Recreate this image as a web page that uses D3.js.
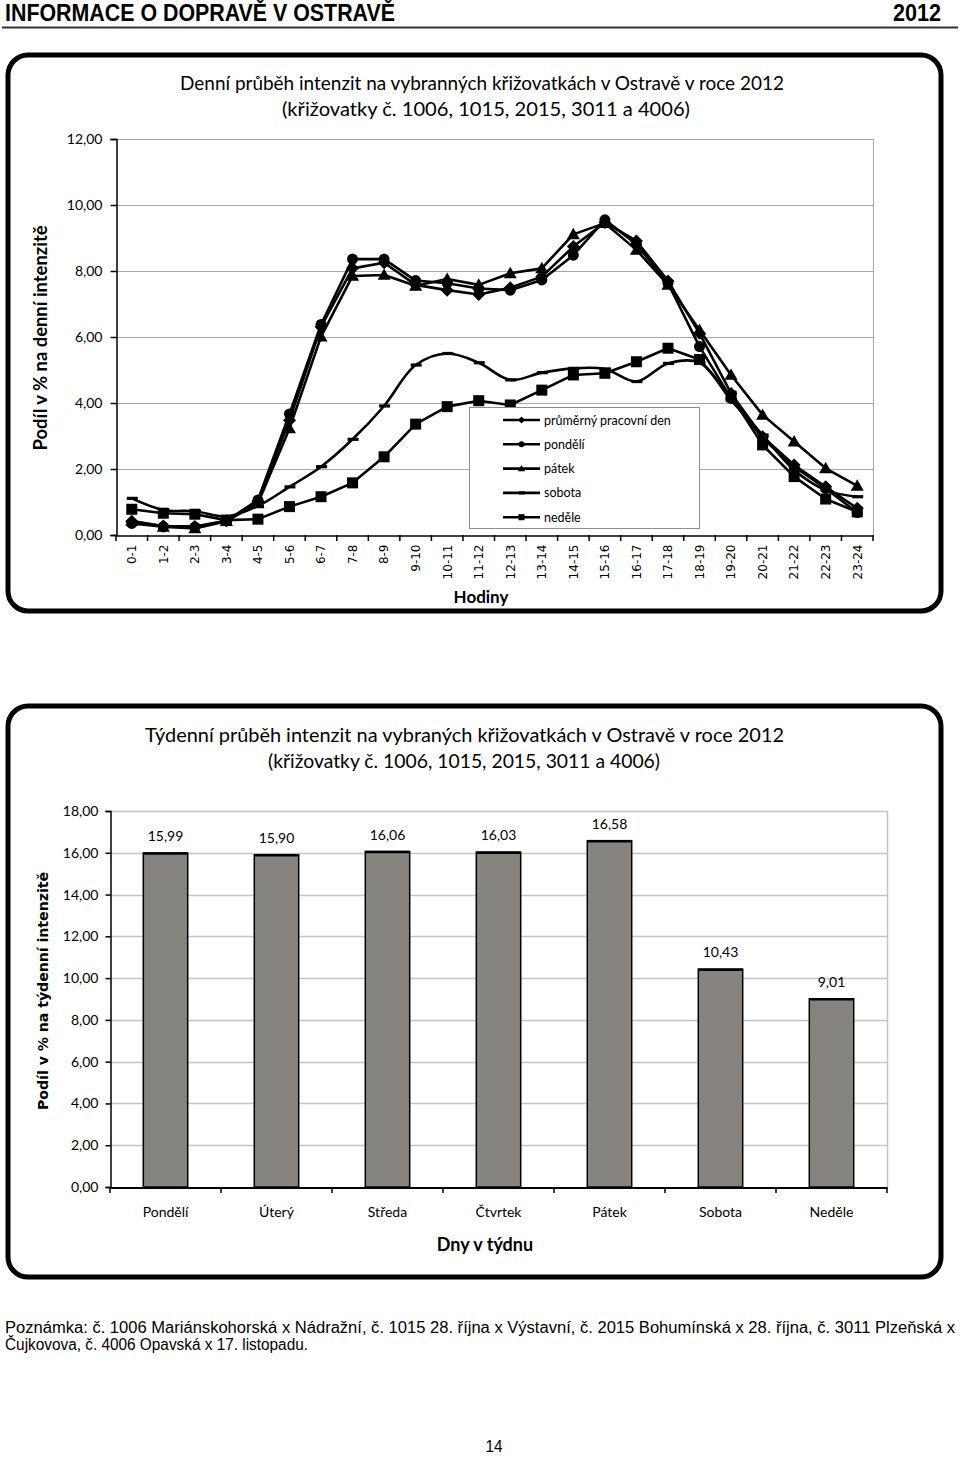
<!DOCTYPE html>
<html><head><meta charset="utf-8">
<script src="https://cdn.jsdelivr.net/npm/d3@7"></script>
<style>
html,body{margin:0;padding:0;background:#fff;}
svg{display:block;}
</style></head>
<body>
<script>
// ---------- DATA ----------
const hours = ["0-1","1-2","2-3","3-4","4-5","5-6","6-7","7-8","8-9","9-10","10-11","11-12","12-13","13-14","14-15","15-16","16-17","17-18","18-19","19-20","20-21","21-22","22-23","23-24"];
const prumernyDen = [0.42,0.27,0.26,0.43,1.02,3.48,6.31,8.08,8.25,7.58,7.42,7.29,7.49,7.83,8.74,9.47,8.91,7.70,6.11,4.29,2.98,2.12,1.46,0.81];
const pondeli     = [0.35,0.25,0.24,0.43,1.06,3.67,6.38,8.36,8.36,7.71,7.63,7.47,7.42,7.73,8.48,9.55,8.81,7.63,5.71,4.14,2.93,2.07,1.41,0.68];
const patek       = [0.42,0.25,0.20,0.42,0.96,3.23,6.01,7.85,7.88,7.55,7.76,7.58,7.93,8.08,9.11,9.45,8.64,7.58,6.21,4.85,3.64,2.83,2.02,1.49];
const sobota      = [1.11,0.76,0.72,0.56,0.88,1.46,2.07,2.90,3.91,5.15,5.50,5.22,4.70,4.92,5.05,5.03,4.65,5.20,5.22,4.09,3.03,1.97,1.36,1.16];
const nedele      = [0.78,0.66,0.63,0.45,0.48,0.86,1.16,1.58,2.37,3.36,3.89,4.07,3.94,4.39,4.85,4.90,5.25,5.66,5.32,4.21,2.73,1.77,1.09,0.70];
const seriesNames = ["průměrný pracovní den","pondělí","pátek","sobota","neděle"];
const dailyTicks = [0,2,4,6,8,10,12];

const days = ["Pondělí","Úterý","Středa","Čtvrtek","Pátek","Sobota","Neděle"];
const weekShare = [15.99,15.90,16.06,16.03,16.58,10.43,9.01];
const weeklyTicks = [0,2,4,6,8,10,12,14,16,18];

// ---------- SETUP ----------
const W = 960, H = 1457;
const svg = d3.select("body").append("svg").attr("width", W).attr("height", H);
const fmt = v => d3.format(".2f")(v).replace(".", ",");
const CAL = "Lato, 'Open Sans', sans-serif";
const NARROW = "'Liberation Sans Narrow','Arial Narrow','Liberation Sans',Arial,sans-serif";

// Header
svg.append("text").attr("x", 5).attr("y", 21).attr("font-family", NARROW).attr("font-weight", "bold")
  .attr("font-size", 23).attr("textLength", 390).attr("lengthAdjust", "spacingAndGlyphs")
  .text("INFORMACE O DOPRAVĚ V OSTRAVĚ");
svg.append("text").attr("x", 893).attr("y", 21).attr("font-family", NARROW)
  .attr("font-weight", "bold").attr("font-size", 23).attr("textLength", 48).attr("lengthAdjust", "spacingAndGlyphs").text("2012");
svg.append("line").attr("x1", 2).attr("x2", 958).attr("y1", 27.5).attr("y2", 27.5)
  .attr("stroke", "#333").attr("stroke-width", 2);

// Frames
function frame(y0, y1) {
  svg.append("rect").attr("x", 8).attr("y", y0).attr("width", 933).attr("height", y1 - y0)
    .attr("rx", 20).attr("ry", 20).attr("fill", "none").attr("stroke", "#000").attr("stroke-width", 5);
}
frame(55, 611);
frame(706, 1277);

// ---------- TOP CHART ----------
const x = d3.scaleBand().domain(hours).range([116, 873]);
const y = d3.scaleLinear().domain([0, 12]).range([535, 139]);

const topG = svg.append("g");
topG.append("text").attr("x", 482).attr("y", 90).attr("text-anchor", "middle").attr("font-family", CAL)
  .attr("font-size", 19).attr("textLength", 604).attr("lengthAdjust", "spacingAndGlyphs")
  .text("Denní průběh intenzit na vybranných křižovatkách v Ostravě v roce 2012");
topG.append("text").attr("x", 486).attr("y", 116).attr("text-anchor", "middle").attr("font-family", CAL)
  .attr("font-size", 19).attr("textLength", 408).attr("lengthAdjust", "spacingAndGlyphs")
  .text("(křižovatky č. 1006, 1015, 2015, 3011 a 4006)");

topG.append("g").selectAll("line").data(dailyTicks.filter(d => d > 0)).join("line")
  .attr("x1", 116).attr("x2", 873).attr("y1", d => y(d) + 0.5).attr("y2", d => y(d) + 0.5)
  .attr("stroke", "#a8a8a8").attr("stroke-width", 1);
topG.append("line").attr("x1", 873.5).attr("x2", 873.5).attr("y1", y(12)).attr("y2", y(0))
  .attr("stroke", "#a8a8a8");

const ya = topG.append("g").attr("transform", "translate(116.5,0)")
  .call(d3.axisLeft(y).tickValues(dailyTicks).tickFormat(fmt).tickSize(6).tickPadding(8));
ya.select(".domain").attr("stroke", "#000").attr("stroke-width", 1.5);
ya.selectAll(".tick line").attr("stroke", "#000").attr("stroke-width", 1.5);
ya.selectAll("text").attr("font-family", CAL).attr("font-size", 14).attr("fill", "#000");

const xa = topG.append("g").attr("transform", "translate(0,535.5)")
  .call(d3.axisBottom(x).tickSize(0).tickSizeOuter(0));
xa.select(".domain").attr("stroke", "#000").attr("stroke-width", 1.5);
xa.selectAll("text").attr("transform", "rotate(-90)").attr("x", -9).attr("y", 0).attr("dy", "0.36em")
  .attr("text-anchor", "end").attr("font-family", "'DejaVu Sans', Verdana, sans-serif")
  .attr("font-size", 12).attr("fill", "#000");
topG.append("g").selectAll("line").data(hours.concat(["__end"])).join("line")
  .attr("x1", d => d === "__end" ? x.range()[1] : x(d)).attr("x2", d => d === "__end" ? x.range()[1] : x(d))
  .attr("y1", 535).attr("y2", 541).attr("stroke", "#000").attr("stroke-width", 1.5);

topG.append("text").attr("transform", "translate(47,338) rotate(-90)").attr("text-anchor", "middle")
  .attr("font-family", CAL).attr("font-weight", "bold").attr("font-size", 18)
  .attr("textLength", 225).attr("lengthAdjust", "spacingAndGlyphs")
  .text("Podíl v % na denní intenzitě");
topG.append("text").attr("x", 481).attr("y", 603).attr("text-anchor", "middle")
  .attr("font-family", CAL).attr("font-weight", "bold").attr("font-size", 17).text("Hodiny");

const cx = (d, i) => x(hours[i]) + x.bandwidth() / 2;
const allSeries = [
  {name: seriesNames[0], values: prumernyDen, marker: "diamond", curve: d3.curveLinear},
  {name: seriesNames[1], values: pondeli, marker: "circle", curve: d3.curveLinear},
  {name: seriesNames[2], values: patek, marker: "triangle", curve: d3.curveLinear},
  {name: seriesNames[3], values: sobota, marker: "dash", curve: d3.curveCatmullRom.alpha(0.5)},
  {name: seriesNames[4], values: nedele, marker: "square", curve: d3.curveLinear}
];

function drawMarker(g, type, px, py, s) {
  if (type === "circle") {
    g.append("circle").attr("cx", px).attr("cy", py).attr("r", 5.5 * s).attr("fill", "#000");
  } else if (type === "diamond") {
    const r = 6.5 * s;
    g.append("path").attr("d", `M${px},${py - r}L${px + r},${py}L${px},${py + r}L${px - r},${py}Z`).attr("fill", "#000");
  } else if (type === "triangle") {
    const r = 6.5 * s;
    g.append("path").attr("d", `M${px},${py - r}L${px + r},${py + r * 0.75}L${px - r},${py + r * 0.75}Z`).attr("fill", "#000");
  } else if (type === "square") {
    const r = 5.5 * s;
    g.append("rect").attr("x", px - r).attr("y", py - r).attr("width", 2 * r).attr("height", 2 * r).attr("fill", "#000");
  } else if (type === "dash") {
    g.append("rect").attr("x", px - 5 * s).attr("y", py - 1.6).attr("width", 11 * s).attr("height", 3.2).attr("fill", "#000");
  }
}

allSeries.forEach(s => {
  const g = topG.append("g");
  const line = d3.line().x(cx).y(d => y(d)).curve(s.curve);
  g.append("path").datum(s.values).attr("d", line).attr("fill", "none")
    .attr("stroke", "#000").attr("stroke-width", 2.6).attr("stroke-linejoin", "round");
  s.values.forEach((v, i) => drawMarker(g, s.marker, cx(v, i), y(v), 1));
});

const lg = topG.append("g");
lg.append("rect").attr("x", 469.5).attr("y", 407.5).attr("width", 230).attr("height", 121)
  .attr("fill", "#fff").attr("stroke", "#8c8c8c").attr("stroke-width", 1);
allSeries.forEach((s, i) => {
  const ly = 420 + i * 24.3;
  lg.append("line").attr("x1", 503).attr("x2", 540).attr("y1", ly).attr("y2", ly)
    .attr("stroke", "#000").attr("stroke-width", 2.6);
  drawMarker(lg, s.marker, 521.5, ly, 0.55);
  lg.append("text").attr("x", 544).attr("y", ly + 4.5).attr("font-family", CAL).attr("font-size", 12.5)
    .attr("fill", "#000").text(s.name);
});

// ---------- BOTTOM CHART ----------
const xb = d3.scaleBand().domain(days).range([110, 887]).paddingInner(0.6).paddingOuter(0.3);
const yb = d3.scaleLinear().domain([0, 18]).range([1187, 811]);
const bot = svg.append("g");

bot.append("text").attr("x", 464.5).attr("y", 742).attr("text-anchor", "middle").attr("font-family", CAL)
  .attr("font-size", 19).attr("textLength", 639).attr("lengthAdjust", "spacingAndGlyphs")
  .text("Týdenní průběh intenzit na vybraných křižovatkách v Ostravě v roce 2012");
bot.append("text").attr("x", 464).attr("y", 768).attr("text-anchor", "middle").attr("font-family", CAL)
  .attr("font-size", 19).attr("textLength", 392).attr("lengthAdjust", "spacingAndGlyphs")
  .text("(křižovatky č. 1006, 1015, 2015, 3011 a 4006)");

bot.append("g").selectAll("line").data(weeklyTicks.filter(d => d > 0)).join("line")
  .attr("x1", 110).attr("x2", 887).attr("y1", d => Math.round(yb(d)) + 0.5).attr("y2", d => Math.round(yb(d)) + 0.5)
  .attr("stroke", "#c4c4c4").attr("stroke-width", 1.5);
bot.append("line").attr("x1", 887.5).attr("x2", 887.5).attr("y1", yb(18)).attr("y2", yb(0)).attr("stroke", "#c4c4c4").attr("stroke-width", 1.5);

bot.append("g").selectAll("rect").data(weekShare).join("rect")
  .attr("x", (d, i) => xb(days[i])).attr("y", d => yb(d)).attr("width", xb.bandwidth())
  .attr("height", d => yb(0) - yb(d)).attr("fill", "#85847e").attr("stroke", "#000").attr("stroke-width", 1.5);
bot.append("g").selectAll("line").data(weekShare).join("line")
  .attr("x1", (d, i) => xb(days[i])).attr("x2", (d, i) => xb(days[i]) + xb.bandwidth())
  .attr("y1", d => yb(d) + 0.5).attr("y2", d => yb(d) + 0.5).attr("stroke", "#000").attr("stroke-width", 2.5);
bot.append("g").selectAll("text").data(weekShare).join("text")
  .attr("x", (d, i) => xb(days[i]) + xb.bandwidth() / 2).attr("y", d => yb(d) - 12)
  .attr("text-anchor", "middle").attr("font-family", CAL).attr("font-size", 14).attr("fill", "#000")
  .text(d => fmt(d));

const yba = bot.append("g").attr("transform", "translate(110.5,0)")
  .call(d3.axisLeft(yb).tickValues(weeklyTicks).tickFormat(fmt).tickSize(5).tickPadding(7));
yba.select(".domain").attr("stroke", "#000").attr("stroke-width", 1.5);
yba.selectAll(".tick line").attr("stroke", "#000").attr("stroke-width", 1.5);
yba.selectAll("text").attr("font-family", CAL).attr("font-size", 14).attr("fill", "#000");

const xba = bot.append("g").attr("transform", "translate(0,1187.5)")
  .call(d3.axisBottom(xb).tickSize(0).tickSizeOuter(0).tickPadding(20));
xba.select(".domain").attr("stroke", "#000").attr("stroke-width", 2);
xba.selectAll("text").attr("font-family", CAL).attr("font-size", 14).attr("fill", "#000");
bot.append("g").selectAll("line").data(days.concat(["__end"])).join("line")
  .attr("x1", d => d === "__end" ? 887 : xb(d) - xb.step() * xb.paddingOuter())
  .attr("x2", d => d === "__end" ? 887 : xb(d) - xb.step() * xb.paddingOuter())
  .attr("y1", 1187).attr("y2", 1193).attr("stroke", "#000").attr("stroke-width", 1.5);

bot.append("text").attr("transform", "translate(48,991) rotate(-90)").attr("text-anchor", "middle")
  .attr("font-family", "'DejaVu Sans', Verdana, sans-serif").attr("font-weight", "bold").attr("font-size", 14.5)
  .attr("textLength", 238).attr("lengthAdjust", "spacingAndGlyphs")
  .text("Podíl v % na týdenní intenzitě");
bot.append("text").attr("x", 485).attr("y", 1251).attr("text-anchor", "middle")
  .attr("font-family", CAL).attr("font-weight", "bold").attr("font-size", 18).text("Dny v týdnu");

// ---------- FOOTER ----------
svg.append("text").attr("x", 5).attr("y", 1333).attr("font-family", NARROW).attr("font-size", 16)
  .attr("textLength", 950).attr("lengthAdjust", "spacingAndGlyphs")
  .text("Poznámka: č. 1006 Mariánskohorská x Nádražní, č. 1015 28. října x Výstavní, č. 2015 Bohumínská x 28. října, č. 3011 Plzeňská x");
svg.append("text").attr("x", 5).attr("y", 1350).attr("font-family", NARROW).attr("font-size", 16)
  .attr("textLength", 303).attr("lengthAdjust", "spacingAndGlyphs")
  .text("Čujkovova, č. 4006 Opavská x 17. listopadu.");
svg.append("text").attr("x", 494).attr("y", 1452).attr("text-anchor", "middle").attr("font-family", NARROW)
  .attr("font-size", 17).attr("textLength", 17).attr("lengthAdjust", "spacingAndGlyphs").text("14");
</script>
</body></html>
